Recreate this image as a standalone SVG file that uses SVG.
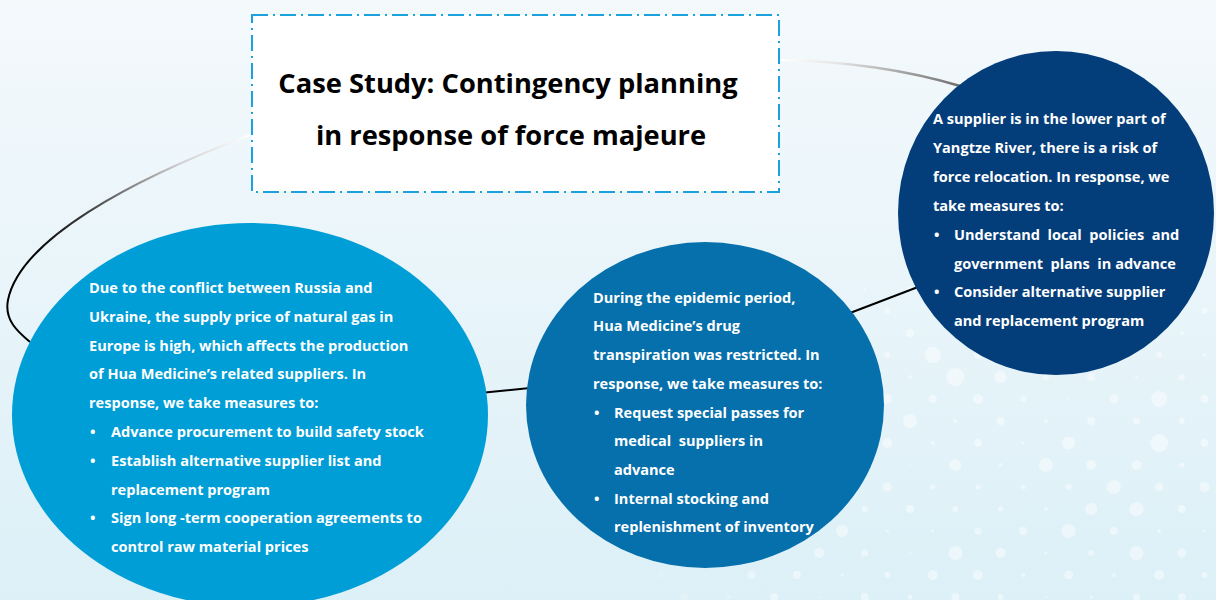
<svg xmlns="http://www.w3.org/2000/svg" width="1216" height="600" viewBox="0 0 1216 600">
<defs>
<linearGradient id="bg" x1="0" y1="0" x2="0" y2="1">
<stop offset="0" stop-color="#f4f9fc"/>
<stop offset="1" stop-color="#dcf0f7"/>
</linearGradient>
<linearGradient id="gLeft" gradientUnits="userSpaceOnUse" x1="250" y1="135" x2="30" y2="320">
<stop offset="0" stop-color="#ffffff"/>
<stop offset="0.25" stop-color="#d0d0d0"/>
<stop offset="0.6" stop-color="#404040"/>
<stop offset="0.85" stop-color="#000000"/>
</linearGradient>
<linearGradient id="gRight" gradientUnits="userSpaceOnUse" x1="780" y1="60" x2="960" y2="86">
<stop offset="0" stop-color="#ffffff"/>
<stop offset="0.3" stop-color="#e6e6e6"/>
<stop offset="1" stop-color="#6e6e6e"/>
</linearGradient>
<radialGradient id="dotFade" gradientUnits="userSpaceOnUse" cx="1216" cy="600" r="700">
<stop offset="0" stop-color="#fff"/>
<stop offset="0.6" stop-color="#fff"/>
<stop offset="0.88" stop-color="#000"/>
</radialGradient>
<mask id="dotMask" maskUnits="userSpaceOnUse" x="0" y="0" width="1216" height="600">
<rect width="1216" height="600" fill="url(#dotFade)"/>
</mask>
</defs>
<style>
.txt{font-family:"Open Sans","Liberation Sans",sans-serif;font-weight:700;fill:#ffffff;font-size:14.55px}
.title{font-family:"Open Sans","Liberation Sans",sans-serif;font-weight:700;fill:#000000;font-size:27.3px}
.dots circle{fill:#ffffff;fill-opacity:0.45}
.conn{fill:none;stroke:#000000;stroke-width:2}
</style>
<rect width="1216" height="600" fill="url(#bg)"/>
<g class="dots" mask="url(#dotMask)">
<circle cx="864.7" cy="289" r="2"/><circle cx="910" cy="289" r="3"/>
<circle cx="842.1" cy="311" r="1.5"/><circle cx="887.4" cy="311" r="3"/><circle cx="932.7" cy="311" r="2"/><circle cx="1204.5" cy="311" r="3"/>
<circle cx="864.7" cy="333" r="2.5"/><circle cx="910" cy="333" r="4"/><circle cx="1181.8" cy="333" r="2"/>
<circle cx="842.1" cy="355" r="1"/><circle cx="887.4" cy="355" r="3"/><circle cx="932.7" cy="355" r="8"/><circle cx="978" cy="355" r="4"/><circle cx="1159.2" cy="355" r="3"/><circle cx="1204.5" cy="355" r="2"/>
<circle cx="864.7" cy="377" r="1.5"/><circle cx="910" cy="377" r="2"/><circle cx="955.3" cy="377" r="9"/><circle cx="1000.6" cy="377" r="6"/><circle cx="1045.9" cy="377" r="3"/><circle cx="1091.2" cy="377" r="4"/><circle cx="1136.5" cy="377" r="1.5"/><circle cx="1181.8" cy="377" r="3"/>
<circle cx="842.1" cy="399" r="2"/><circle cx="887.4" cy="399" r="5"/><circle cx="932.7" cy="399" r="4"/><circle cx="978" cy="399" r="5"/><circle cx="1023.3" cy="399" r="3"/><circle cx="1068.6" cy="399" r="1"/><circle cx="1113.9" cy="399" r="4.5"/><circle cx="1159.2" cy="399" r="8"/><circle cx="1204.5" cy="399" r="4"/>
<circle cx="864.7" cy="421" r="1.2"/><circle cx="910" cy="421" r="7"/><circle cx="955.3" cy="421" r="2"/><circle cx="1000.6" cy="421" r="4"/><circle cx="1045.9" cy="421" r="2"/><circle cx="1091.2" cy="421" r="4"/><circle cx="1136.5" cy="421" r="3.5"/><circle cx="1181.8" cy="421" r="3"/>
<circle cx="842.1" cy="443" r="1.5"/><circle cx="887.4" cy="443" r="5"/><circle cx="932.7" cy="443" r="2"/><circle cx="978" cy="443" r="4"/><circle cx="1023.3" cy="443" r="1.5"/><circle cx="1068.6" cy="443" r="6.5"/><circle cx="1113.9" cy="443" r="0.6"/><circle cx="1159.2" cy="443" r="9"/><circle cx="1204.5" cy="443" r="4"/>
<circle cx="864.7" cy="465" r="2"/><circle cx="910" cy="465" r="1"/><circle cx="955.3" cy="465" r="6"/><circle cx="1000.6" cy="465" r="2"/><circle cx="1045.9" cy="465" r="7"/><circle cx="1091.2" cy="465" r="5"/><circle cx="1136.5" cy="465" r="5"/><circle cx="1181.8" cy="465" r="2.5"/>
<circle cx="842.1" cy="487" r="4"/><circle cx="887.4" cy="487" r="4.5"/><circle cx="932.7" cy="487" r="2.5"/><circle cx="978" cy="487" r="2.5"/><circle cx="1023.3" cy="487" r="2.5"/><circle cx="1068.6" cy="487" r="3"/><circle cx="1113.9" cy="487" r="7"/><circle cx="1159.2" cy="487" r="4"/><circle cx="1204.5" cy="487" r="5"/>
<circle cx="819.4" cy="509" r="2"/><circle cx="864.7" cy="509" r="3"/><circle cx="910" cy="509" r="4"/><circle cx="955.3" cy="509" r="3"/><circle cx="1000.6" cy="509" r="2.5"/><circle cx="1045.9" cy="509" r="2"/><circle cx="1091.2" cy="509" r="6"/><circle cx="1136.5" cy="509" r="7"/><circle cx="1181.8" cy="509" r="4"/>
<circle cx="796.8" cy="531" r="2"/><circle cx="842.1" cy="531" r="6"/><circle cx="887.4" cy="531" r="1.5"/><circle cx="932.7" cy="531" r="1.5"/><circle cx="978" cy="531" r="3.5"/><circle cx="1023.3" cy="531" r="4"/><circle cx="1068.6" cy="531" r="7"/><circle cx="1113.9" cy="531" r="4"/><circle cx="1159.2" cy="531" r="2"/><circle cx="1204.5" cy="531" r="1.5"/>
<circle cx="592.9" cy="553" r="1"/><circle cx="638.2" cy="553" r="2"/><circle cx="683.5" cy="553" r="1.5"/><circle cx="728.8" cy="553" r="2"/><circle cx="774.1" cy="553" r="3"/><circle cx="819.4" cy="553" r="5"/><circle cx="864.7" cy="553" r="3.5"/><circle cx="910" cy="553" r="1"/><circle cx="955.3" cy="553" r="7"/><circle cx="1000.6" cy="553" r="5"/><circle cx="1045.9" cy="553" r="1.5"/><circle cx="1091.2" cy="553" r="3"/><circle cx="1136.5" cy="553" r="7"/><circle cx="1181.8" cy="553" r="4.5"/>
<circle cx="615.6" cy="575" r="2"/><circle cx="660.9" cy="575" r="3"/><circle cx="706.2" cy="575" r="1.5"/><circle cx="751.5" cy="575" r="4"/><circle cx="796.8" cy="575" r="4"/><circle cx="842.1" cy="575" r="1.5"/><circle cx="887.4" cy="575" r="3"/><circle cx="932.7" cy="575" r="5"/><circle cx="978" cy="575" r="5"/><circle cx="1023.3" cy="575" r="2"/><circle cx="1068.6" cy="575" r="4.5"/><circle cx="1113.9" cy="575" r="2"/><circle cx="1159.2" cy="575" r="5"/><circle cx="1204.5" cy="575" r="3"/>
<circle cx="592.9" cy="597" r="3"/><circle cx="638.2" cy="597" r="1.5"/><circle cx="683.5" cy="597" r="4"/><circle cx="728.8" cy="597" r="2"/><circle cx="774.1" cy="597" r="4"/><circle cx="819.4" cy="597" r="1"/><circle cx="864.7" cy="597" r="4"/><circle cx="910" cy="597" r="2.5"/><circle cx="955.3" cy="597" r="4"/><circle cx="1000.6" cy="597" r="3"/><circle cx="1045.9" cy="597" r="1"/><circle cx="1091.2" cy="597" r="1.5"/><circle cx="1136.5" cy="597" r="3.5"/><circle cx="1181.8" cy="597" r="4"/>
</g>
<g id="connectors">
<path d="M250,135 C130,180 20,240 8,300 C4,320 18,332 30,342" fill="none" stroke="url(#gLeft)" stroke-width="2"/>
<path d="M780,60 Q880,62 960,86" fill="none" stroke="url(#gRight)" stroke-width="2.5"/>
<line class="conn" x1="480" y1="393" x2="530" y2="388"/>
<line class="conn" x1="850" y1="313" x2="918" y2="287"/>
</g>
<g id="title">
<rect x="252" y="15" width="527" height="177" fill="#ffffff" stroke="#1ba1dc" stroke-width="2" stroke-dasharray="16 5 2 5"/>
<text class="title" x="508" y="93" text-anchor="middle">Case Study: Contingency planning</text>
<text class="title" x="511" y="145" text-anchor="middle">in response of force majeure</text>
</g>
<g id="node-left">
<ellipse cx="250" cy="415" rx="238" ry="192" fill="#009ed6"/>
<text class="txt">
<tspan x="89" y="293">Due to the conflict between Russia and</tspan>
<tspan x="89" y="321.8">Ukraine, the supply price of natural gas in</tspan>
<tspan x="89" y="350.6">Europe is high, which affects the production</tspan>
<tspan x="89" y="379.4">of Hua Medicine’s related suppliers. In</tspan>
<tspan x="89" y="408.2">response, we take measures to:</tspan>
<tspan x="90" y="437">•</tspan><tspan x="111" y="437">Advance procurement to build safety stock</tspan>
<tspan x="90" y="465.8">•</tspan><tspan x="111" y="465.8">Establish alternative supplier list and</tspan>
<tspan x="111" y="494.6">replacement program</tspan>
<tspan x="90" y="523.4">•</tspan><tspan x="111" y="523.4">Sign long -term cooperation agreements to</tspan>
<tspan x="111" y="552.2">control raw material prices</tspan>
</text>
</g>
<g id="node-middle">
<ellipse cx="705" cy="405" rx="179" ry="163" fill="#0570ab"/>
<text class="txt" xml:space="preserve"><tspan x="593" y="302.7">During the epidemic period,</tspan><tspan x="593" y="331.4">Hua Medicine’s drug</tspan><tspan x="593" y="360.1">transpiration was restricted. In</tspan><tspan x="593" y="388.8">response, we take measures to:</tspan><tspan x="594" y="417.5">•</tspan><tspan x="614" y="417.5">Request special passes for</tspan><tspan x="614" y="446.2">medical  suppliers in</tspan><tspan x="614" y="474.9">advance</tspan><tspan x="594" y="503.6">•</tspan><tspan x="614" y="503.6">Internal stocking and</tspan><tspan x="614" y="532.3">replenishment of inventory</tspan></text>
</g>
<g id="node-right">
<ellipse cx="1056" cy="213" rx="158" ry="162" fill="#043e7a"/>
<text class="txt" xml:space="preserve"><tspan x="933" y="124">A supplier is in the lower part of</tspan><tspan x="933" y="152.9">Yangtze River, there is a risk of</tspan><tspan x="933" y="181.8">force relocation. In response, we</tspan><tspan x="933" y="210.7">take measures to:</tspan><tspan x="934" y="239.6">•</tspan><tspan x="954" y="239.6">Understand  local  policies  and</tspan><tspan x="954" y="268.5">government  plans  in advance</tspan><tspan x="934" y="297.4">•</tspan><tspan x="954" y="297.4">Consider alternative supplier</tspan><tspan x="954" y="326.3">and replacement program</tspan></text>
</g>
</svg>
